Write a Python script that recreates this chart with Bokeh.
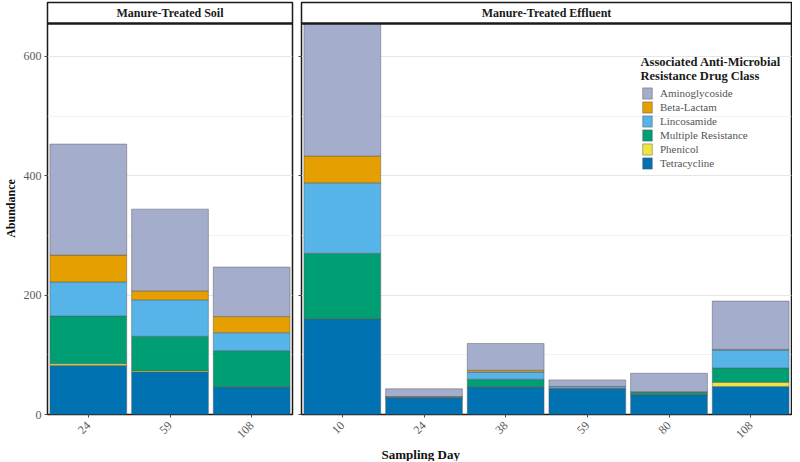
import math
from bokeh.plotting import figure
from bokeh.models import (Range1d, FactorRange, FixedTicker, Span, Label, Legend,
                          LegendItem, ColumnDataSource, Title)
from bokeh.layouts import row
from bokeh.embed import file_html
from bokeh.resources import INLINE

# ---------------- data ----------------
class_names = ["Tetracycline", "Phenicol", "Multiple Resistance",
               "Lincosamide", "Beta-Lactam", "Aminoglycoside"]
class_keys = ["tet", "phe", "mul", "lin", "bet", "ami"]
class_colors = ["#0072B2", "#F0E442", "#009E73", "#56B4E9", "#E69F00", "#A4ADCB"]

soil_days = ["24", "59", "108"]
soil_tet = [82, 71, 46]
soil_phe = [3, 2, 0]
soil_mul = [80, 58, 61]
soil_lin = [57, 61, 30]
soil_bet = [45, 15, 27]
soil_ami = [186, 137, 83]

eff_days = ["10", "24", "38", "59", "80", "108"]
eff_tet = [160, 28, 46, 43, 33, 47]
eff_phe = [0, 0, 0, 0, 0, 7]
eff_mul = [110, 1, 13, 1, 4, 24]
eff_lin = [118, 1, 12, 3, 1, 30]
eff_bet = [45, 0, 3, 0, 0, 1]
eff_ami = [222, 13, 45, 11, 31, 81]

y_ticks = [0, 200, 400, 600]
y_minor = [100, 300, 500]

# ---------------- layout constants ----------------
FONT = "Liberation Serif"
PANEL_H = 391      # px of data panel
STRIP_H = 21       # px of strip
LEFT_W = 245
RIGHT_W = 490

soil_tot = [sum(v) for v in zip(soil_tet, soil_phe, soil_mul, soil_lin, soil_bet, soil_ami)]
eff_tot = [sum(v) for v in zip(eff_tet, eff_phe, eff_mul, eff_lin, eff_bet, eff_ami)]
ytop = max(soil_tot + eff_tot)
px_per_unit = PANEL_H / ytop
strip_units = STRIP_H / px_per_unit
yend = ytop + strip_units


def make_panel(days, cols, title, fw, border_left, border_right, show_ylabels):
    src = ColumnDataSource(dict(day=days, **{k: v for k, v in zip(class_keys, cols)}))
    p = figure(x_range=FactorRange(factors=days, range_padding=0),
               y_range=Range1d(0, yend),
               frame_width=fw, frame_height=PANEL_H + STRIP_H,
               output_backend="svg", toolbar_location=None,
               min_border_left=border_left, min_border_right=border_right,
               min_border_top=2, min_border_bottom=0)
    p.background_fill_color = "white"
    p.border_fill_color = "white"
    p.outline_line_color = "#1a1a1a"
    p.outline_line_width = 1.5

    rs = p.vbar_stack(class_keys, x="day", width=0.94, source=src,
                      fill_color=class_colors, line_color="#5a5a5a",
                      line_width=0.6, line_alpha=0.8)

    # grids
    p.xgrid.grid_line_color = None
    p.ygrid.grid_line_color = "#e6e6e6"
    p.ygrid.grid_line_width = 1
    p.ygrid.minor_grid_line_color = "#f0f0f0"
    p.ygrid.minor_grid_line_width = 0.8

    # axes
    p.yaxis.ticker = FixedTicker(ticks=y_ticks, minor_ticks=y_minor)
    for ax in (p.xaxis, p.yaxis):
        ax.axis_line_color = None
        ax.major_tick_line_color = "#4d4d4d"
        ax.major_tick_out = 3
        ax.major_tick_in = 0
        ax.minor_tick_line_color = None
        ax.major_label_text_font = FONT
        ax.major_label_text_font_size = "12px"
        ax.major_label_text_color = "#5a5a5a"
    p.xaxis.major_label_orientation = math.pi / 4
    p.xaxis.major_label_standoff = 6
    if show_ylabels:
        p.yaxis.axis_label = "Abundance"
        p.yaxis.axis_label_text_font = FONT
        p.yaxis.axis_label_text_font_style = "bold"
        p.yaxis.axis_label_text_font_size = "12px"
        p.yaxis.axis_label_text_color = "#111111"
        p.yaxis.axis_label_standoff = 3
        p.yaxis.major_label_standoff = 2
    else:
        p.yaxis.major_label_overrides = {t: "" for t in y_ticks}
        p.yaxis.major_label_standoff = 0

    # strip
    p.add_layout(Span(location=ytop, dimension="width", line_color="#1a1a1a", line_width=2.5))
    p.add_layout(Label(x=len(days) / 2, y=ytop + strip_units / 2, text=title,
                       text_align="center", text_baseline="middle",
                       text_font=FONT, text_font_style="bold",
                       text_font_size="12px", text_color="#1a1a1a"))
    return p, rs


p1, _ = make_panel(soil_days, [soil_tet, soil_phe, soil_mul, soil_lin, soil_bet, soil_ami],
                   "Manure-Treated Soil", LEFT_W, 38, 5, True)
p2, rs2 = make_panel(eff_days, [eff_tet, eff_phe, eff_mul, eff_lin, eff_bet, eff_ami],
                     "Manure-Treated Effluent", RIGHT_W, 4, 1, False)

# legend (top entry = Aminoglycoside)
items = [LegendItem(label=n, renderers=[r]) for n, r in zip(class_names, rs2)][::-1]
legend = Legend(items=items, location=(340, 244), orientation="vertical",
                glyph_width=12, glyph_height=14, spacing=0, padding=0, margin=0,
                label_standoff=7, label_height=14,
                label_text_font=FONT, label_text_font_size="11px",
                label_text_color="#555555",
                background_fill_alpha=0, border_line_color=None)
p2.add_layout(legend)

cat_px = RIGHT_W / len(eff_days)
tx = 339 / cat_px
for txt, py in (("Associated Anti-Microbial", 353), ("Resistance Drug Class", 339)):
    p2.add_layout(Label(x=tx, y=py / px_per_unit, text=txt,
                        text_align="left", text_baseline="middle",
                        text_font=FONT, text_font_style="bold",
                        text_font_size="12.5px", text_color="#1a1a1a"))

# x-axis title, centred under both panels (placed below the right panel)
p2.add_layout(Title(text="Sampling Day", align="left", offset=80, standoff=0,
                    text_font=FONT, text_font_style="bold",
                    text_font_size="13px", text_color="#111111"), "below")

layout = row(p1, p2)

open("out.html", "w").write(file_html(layout, INLINE))
